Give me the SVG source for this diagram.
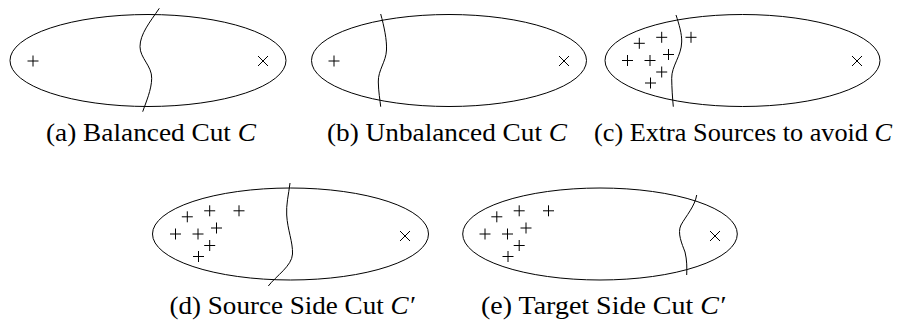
<svg xmlns="http://www.w3.org/2000/svg" width="897" height="322" viewBox="0 0 897 322">
<defs>
<style>
.el{fill:none;stroke:#000;stroke-width:1}
.cut{fill:none;stroke:#000;stroke-width:1}
.mk{fill:none;stroke:#000;stroke-width:1}
.cap{font-family:'Liberation Serif','Times New Roman',serif;font-size:24.5px;fill:#000;text-anchor:middle}
.it{font-style:italic}
</style>
<path id="plus" class="mk" d="M-5.5,0H5.5M0,-5.5V5.5"/>
<path id="cross" class="mk" d="M-5,-5L5,5M-5,5L5,-5"/>
<g id="many">
<use href="#plus" x="-103.2" y="-17.2"/>
<use href="#plus" x="-80.8" y="-23.2"/>
<use href="#plus" x="-51.5" y="-23.2"/>
<use href="#plus" x="-115" y="0"/>
<use href="#plus" x="-92.5" y="0"/>
<use href="#plus" x="-74" y="-6"/>
<use href="#plus" x="-80.8" y="11.5"/>
<use href="#plus" x="-92" y="22.5"/>
</g>
</defs>
<g id="fig-a">
<ellipse class="el" cx="148" cy="60.5" rx="138" ry="46"/>
<use href="#plus" x="33" y="61"/>
<use href="#cross" x="263" y="61"/>
<path class="cut" d="M159.3,8.3 C150,22 140,34 140,46.7 C140,58 152,66 151.7,78.3 C151.5,90 146,102 142.7,111.7"/>
<text class="cap" x="151" y="141" textLength="210" lengthAdjust="spacingAndGlyphs">(a) Balanced Cut <tspan class="it">C</tspan></text>
</g>
<g id="fig-b">
<ellipse class="el" cx="449" cy="60.5" rx="137.5" ry="46"/>
<use href="#plus" x="334" y="61"/>
<use href="#cross" x="564" y="61"/>
<path class="cut" d="M380.7,14 C384,26 387,40 386.5,50 C386,62 378,70 378.3,82 C378.5,92 380,100 380.7,106.7"/>
<text class="cap" x="447" y="141" textLength="240" lengthAdjust="spacingAndGlyphs">(b) Unbalanced Cut <tspan class="it">C</tspan></text>
</g>
<g id="fig-c">
<ellipse class="el" cx="742.5" cy="60.5" rx="137.5" ry="46"/>
<use href="#many" x="742.5" y="60.5"/>
<use href="#cross" x="857" y="61"/>
<path class="cut" d="M676,15 C679,24 682,34 681.7,42 C681.4,56 671.5,66 671.7,78.3 C671.8,88 672.5,98 673.3,106.7"/>
<text class="cap" x="743" y="141" textLength="298" lengthAdjust="spacingAndGlyphs">(c) Extra Sources to avoid <tspan class="it">C</tspan></text>
</g>
<g id="fig-d">
<ellipse class="el" cx="290.5" cy="234" rx="138" ry="46"/>
<use href="#many" x="290.5" y="234"/>
<use href="#cross" x="405" y="236"/>
<path class="cut" d="M290,183 C288.5,195 286,205 286.7,215 C287.5,230 293,242 292.5,254 C292,266 276,276 268.3,286"/>
<text class="cap" x="292" y="314" textLength="245" lengthAdjust="spacingAndGlyphs">(d) Source Side Cut <tspan class="it">C′</tspan></text>
</g>
<g id="fig-e">
<ellipse class="el" cx="600" cy="234" rx="137.3" ry="46"/>
<use href="#many" x="600" y="234"/>
<use href="#cross" x="715" y="236"/>
<path class="cut" d="M696.7,195 C695,206 686,216 681,225 C677,233 682,244 685,252 C687,260 687,268 686.7,275"/>
<text class="cap" x="603" y="314" textLength="244" lengthAdjust="spacingAndGlyphs">(e) Target Side Cut <tspan class="it">C′</tspan></text>
</g>
</svg>
